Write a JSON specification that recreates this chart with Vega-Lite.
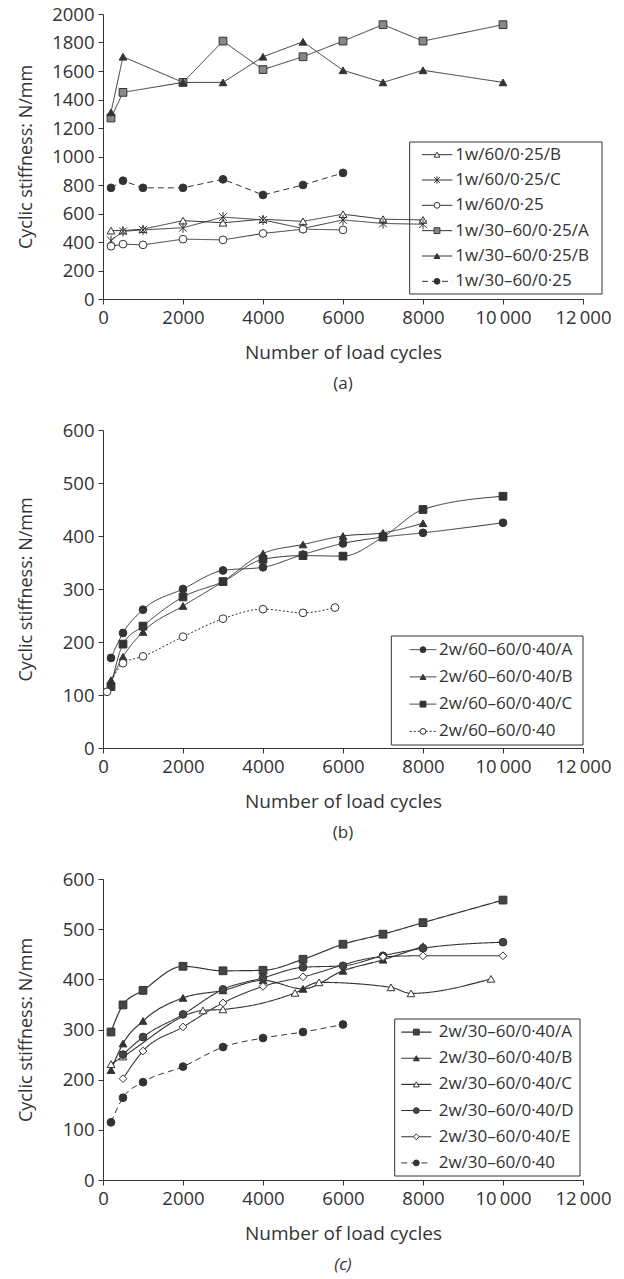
{
  "$schema": "https://vega.github.io/schema/vega-lite/v6.json",
  "padding": {"left": 17, "top": 5, "right": 5, "bottom": 2},
  "spacing": 29,
  "datasets": {
    "a": [
      {"s": "1w/60/0·25/B", "x": 200, "y": 480}, {"s": "1w/60/0·25/B", "x": 500, "y": 480}, {"s": "1w/60/0·25/B", "x": 1000, "y": 490}, {"s": "1w/60/0·25/B", "x": 2000, "y": 550}, {"s": "1w/60/0·25/B", "x": 3000, "y": 535}, {"s": "1w/60/0·25/B", "x": 4000, "y": 560}, {"s": "1w/60/0·25/B", "x": 5000, "y": 545}, {"s": "1w/60/0·25/B", "x": 6000, "y": 595}, {"s": "1w/60/0·25/B", "x": 7000, "y": 560}, {"s": "1w/60/0·25/B", "x": 8000, "y": 555},
      {"s": "1w/60/0·25/C", "x": 200, "y": 410}, {"s": "1w/60/0·25/C", "x": 500, "y": 475}, {"s": "1w/60/0·25/C", "x": 1000, "y": 485}, {"s": "1w/60/0·25/C", "x": 2000, "y": 500}, {"s": "1w/60/0·25/C", "x": 3000, "y": 575}, {"s": "1w/60/0·25/C", "x": 4000, "y": 555}, {"s": "1w/60/0·25/C", "x": 5000, "y": 495}, {"s": "1w/60/0·25/C", "x": 6000, "y": 555}, {"s": "1w/60/0·25/C", "x": 7000, "y": 530}, {"s": "1w/60/0·25/C", "x": 8000, "y": 525},
      {"s": "1w/60/0·25", "x": 200, "y": 370}, {"s": "1w/60/0·25", "x": 500, "y": 385}, {"s": "1w/60/0·25", "x": 1000, "y": 380}, {"s": "1w/60/0·25", "x": 2000, "y": 420}, {"s": "1w/60/0·25", "x": 3000, "y": 415}, {"s": "1w/60/0·25", "x": 4000, "y": 460}, {"s": "1w/60/0·25", "x": 5000, "y": 490}, {"s": "1w/60/0·25", "x": 6000, "y": 485},
      {"s": "1w/30–60/0·25/A", "x": 200, "y": 1270}, {"s": "1w/30–60/0·25/A", "x": 500, "y": 1450}, {"s": "1w/30–60/0·25/A", "x": 2000, "y": 1520}, {"s": "1w/30–60/0·25/A", "x": 3000, "y": 1810}, {"s": "1w/30–60/0·25/A", "x": 4000, "y": 1610}, {"s": "1w/30–60/0·25/A", "x": 5000, "y": 1700}, {"s": "1w/30–60/0·25/A", "x": 6000, "y": 1810}, {"s": "1w/30–60/0·25/A", "x": 7000, "y": 1925}, {"s": "1w/30–60/0·25/A", "x": 8000, "y": 1810}, {"s": "1w/30–60/0·25/A", "x": 10000, "y": 1925},
      {"s": "1w/30–60/0·25/B", "x": 200, "y": 1310}, {"s": "1w/30–60/0·25/B", "x": 500, "y": 1700}, {"s": "1w/30–60/0·25/B", "x": 2000, "y": 1520}, {"s": "1w/30–60/0·25/B", "x": 3000, "y": 1520}, {"s": "1w/30–60/0·25/B", "x": 4000, "y": 1700}, {"s": "1w/30–60/0·25/B", "x": 5000, "y": 1805}, {"s": "1w/30–60/0·25/B", "x": 6000, "y": 1605}, {"s": "1w/30–60/0·25/B", "x": 7000, "y": 1520}, {"s": "1w/30–60/0·25/B", "x": 8000, "y": 1605}, {"s": "1w/30–60/0·25/B", "x": 10000, "y": 1520},
      {"s": "1w/30–60/0·25", "x": 200, "y": 780}, {"s": "1w/30–60/0·25", "x": 500, "y": 830}, {"s": "1w/30–60/0·25", "x": 1000, "y": 780}, {"s": "1w/30–60/0·25", "x": 2000, "y": 780}, {"s": "1w/30–60/0·25", "x": 3000, "y": 840}, {"s": "1w/30–60/0·25", "x": 4000, "y": 730}, {"s": "1w/30–60/0·25", "x": 5000, "y": 800}, {"s": "1w/30–60/0·25", "x": 6000, "y": 885}
    ],
    "la": [{"s": "1w/60/0·25/B"}, {"s": "1w/60/0·25/C"}, {"s": "1w/60/0·25"}, {"s": "1w/30–60/0·25/A"}, {"s": "1w/30–60/0·25/B"}, {"s": "1w/30–60/0·25"}],
    "b": [
      {"s": "2w/60–60/0·40/A", "x": 200, "y": 170}, {"s": "2w/60–60/0·40/A", "x": 500, "y": 217}, {"s": "2w/60–60/0·40/A", "x": 1000, "y": 261}, {"s": "2w/60–60/0·40/A", "x": 2000, "y": 300}, {"s": "2w/60–60/0·40/A", "x": 3000, "y": 335}, {"s": "2w/60–60/0·40/A", "x": 4000, "y": 341}, {"s": "2w/60–60/0·40/A", "x": 5000, "y": 365}, {"s": "2w/60–60/0·40/A", "x": 6000, "y": 386}, {"s": "2w/60–60/0·40/A", "x": 7000, "y": 398}, {"s": "2w/60–60/0·40/A", "x": 8000, "y": 406}, {"s": "2w/60–60/0·40/A", "x": 10000, "y": 425},
      {"s": "2w/60–60/0·40/B", "x": 200, "y": 128}, {"s": "2w/60–60/0·40/B", "x": 500, "y": 172}, {"s": "2w/60–60/0·40/B", "x": 1000, "y": 219}, {"s": "2w/60–60/0·40/B", "x": 2000, "y": 268}, {"s": "2w/60–60/0·40/B", "x": 3000, "y": 314}, {"s": "2w/60–60/0·40/B", "x": 4000, "y": 367}, {"s": "2w/60–60/0·40/B", "x": 5000, "y": 384}, {"s": "2w/60–60/0·40/B", "x": 6000, "y": 400}, {"s": "2w/60–60/0·40/B", "x": 7000, "y": 406}, {"s": "2w/60–60/0·40/B", "x": 8000, "y": 424},
      {"s": "2w/60–60/0·40/C", "x": 200, "y": 116}, {"s": "2w/60–60/0·40/C", "x": 500, "y": 196}, {"s": "2w/60–60/0·40/C", "x": 1000, "y": 230}, {"s": "2w/60–60/0·40/C", "x": 2000, "y": 285}, {"s": "2w/60–60/0·40/C", "x": 3000, "y": 314}, {"s": "2w/60–60/0·40/C", "x": 4000, "y": 356}, {"s": "2w/60–60/0·40/C", "x": 5000, "y": 363}, {"s": "2w/60–60/0·40/C", "x": 6000, "y": 362}, {"s": "2w/60–60/0·40/C", "x": 7000, "y": 398}, {"s": "2w/60–60/0·40/C", "x": 8000, "y": 450}, {"s": "2w/60–60/0·40/C", "x": 10000, "y": 475},
      {"s": "2w/60–60/0·40", "x": 100, "y": 106}, {"s": "2w/60–60/0·40", "x": 500, "y": 160}, {"s": "2w/60–60/0·40", "x": 1000, "y": 173}, {"s": "2w/60–60/0·40", "x": 2000, "y": 210}, {"s": "2w/60–60/0·40", "x": 3000, "y": 244}, {"s": "2w/60–60/0·40", "x": 4000, "y": 262}, {"s": "2w/60–60/0·40", "x": 5000, "y": 255}, {"s": "2w/60–60/0·40", "x": 5800, "y": 265}
    ],
    "lb": [{"s": "2w/60–60/0·40/A"}, {"s": "2w/60–60/0·40/B"}, {"s": "2w/60–60/0·40/C"}, {"s": "2w/60–60/0·40"}],
    "c": [
      {"s": "2w/30–60/0·40/A", "x": 200, "y": 295}, {"s": "2w/30–60/0·40/A", "x": 500, "y": 349}, {"s": "2w/30–60/0·40/A", "x": 1000, "y": 378}, {"s": "2w/30–60/0·40/A", "x": 2000, "y": 426}, {"s": "2w/30–60/0·40/A", "x": 3000, "y": 417}, {"s": "2w/30–60/0·40/A", "x": 4000, "y": 418}, {"s": "2w/30–60/0·40/A", "x": 5000, "y": 440}, {"s": "2w/30–60/0·40/A", "x": 6000, "y": 470}, {"s": "2w/30–60/0·40/A", "x": 7000, "y": 490}, {"s": "2w/30–60/0·40/A", "x": 8000, "y": 513}, {"s": "2w/30–60/0·40/A", "x": 10000, "y": 558},
      {"s": "2w/30–60/0·40/B", "x": 200, "y": 219}, {"s": "2w/30–60/0·40/B", "x": 500, "y": 272}, {"s": "2w/30–60/0·40/B", "x": 1000, "y": 317}, {"s": "2w/30–60/0·40/B", "x": 2000, "y": 363}, {"s": "2w/30–60/0·40/B", "x": 3000, "y": 378}, {"s": "2w/30–60/0·40/B", "x": 4000, "y": 398}, {"s": "2w/30–60/0·40/B", "x": 5000, "y": 381}, {"s": "2w/30–60/0·40/B", "x": 6000, "y": 417}, {"s": "2w/30–60/0·40/B", "x": 7000, "y": 439}, {"s": "2w/30–60/0·40/B", "x": 8000, "y": 466},
      {"s": "2w/30–60/0·40/C", "x": 200, "y": 231}, {"s": "2w/30–60/0·40/C", "x": 500, "y": 246}, {"s": "2w/30–60/0·40/C", "x": 2500, "y": 338}, {"s": "2w/30–60/0·40/C", "x": 3000, "y": 340}, {"s": "2w/30–60/0·40/C", "x": 4800, "y": 373}, {"s": "2w/30–60/0·40/C", "x": 5400, "y": 394}, {"s": "2w/30–60/0·40/C", "x": 7200, "y": 384}, {"s": "2w/30–60/0·40/C", "x": 7700, "y": 372}, {"s": "2w/30–60/0·40/C", "x": 9700, "y": 401},
      {"s": "2w/30–60/0·40/D", "x": 500, "y": 250}, {"s": "2w/30–60/0·40/D", "x": 1000, "y": 285}, {"s": "2w/30–60/0·40/D", "x": 2000, "y": 330}, {"s": "2w/30–60/0·40/D", "x": 3000, "y": 380}, {"s": "2w/30–60/0·40/D", "x": 4000, "y": 403}, {"s": "2w/30–60/0·40/D", "x": 5000, "y": 424}, {"s": "2w/30–60/0·40/D", "x": 6000, "y": 427}, {"s": "2w/30–60/0·40/D", "x": 7000, "y": 447}, {"s": "2w/30–60/0·40/D", "x": 8000, "y": 462}, {"s": "2w/30–60/0·40/D", "x": 10000, "y": 474},
      {"s": "2w/30–60/0·40/E", "x": 500, "y": 202}, {"s": "2w/30–60/0·40/E", "x": 1000, "y": 257}, {"s": "2w/30–60/0·40/E", "x": 2000, "y": 305}, {"s": "2w/30–60/0·40/E", "x": 3000, "y": 353}, {"s": "2w/30–60/0·40/E", "x": 4000, "y": 386}, {"s": "2w/30–60/0·40/E", "x": 5000, "y": 405}, {"s": "2w/30–60/0·40/E", "x": 7000, "y": 445}, {"s": "2w/30–60/0·40/E", "x": 8000, "y": 447}, {"s": "2w/30–60/0·40/E", "x": 10000, "y": 447},
      {"s": "2w/30–60/0·40", "x": 200, "y": 115}, {"s": "2w/30–60/0·40", "x": 500, "y": 164}, {"s": "2w/30–60/0·40", "x": 1000, "y": 195}, {"s": "2w/30–60/0·40", "x": 2000, "y": 226}, {"s": "2w/30–60/0·40", "x": 3000, "y": 265}, {"s": "2w/30–60/0·40", "x": 4000, "y": 283}, {"s": "2w/30–60/0·40", "x": 5000, "y": 295}, {"s": "2w/30–60/0·40", "x": 6000, "y": 310}
    ],
    "lc": [{"s": "2w/30–60/0·40/A"}, {"s": "2w/30–60/0·40/B"}, {"s": "2w/30–60/0·40/C"}, {"s": "2w/30–60/0·40/D"}, {"s": "2w/30–60/0·40/E"}, {"s": "2w/30–60/0·40"}]
  },
  "vconcat": [
    {
      "width": 480, "height": 285,
      "title": {"text": "(a)", "orient": "bottom", "offset": 13},
      "resolve": {"scale": {"y": "independent"}},
      "layer": [
        {
          "data": {"name": "a"},
          "encoding": {
            "x": {"field": "x", "type": "quantitative", "scale": {"domain": [0, 12000], "nice": false}, "axis": {"values": [0, 2000, 4000, 6000, 8000, 10000, 12000], "title": "Number of load cycles"}},
            "y": {"field": "y", "type": "quantitative", "scale": {"domain": [0, 2000], "nice": false}, "axis": {"values": [0, 200, 400, 600, 800, 1000, 1200, 1400, 1600, 1800, 2000], "format": "d", "title": "Cyclic stiffness: N/mm"}}
          },
          "layer": [
            {
              "mark": {"type": "line", "color": "#333", "strokeWidth": 1},
              "encoding": {
                "detail": {"field": "s", "type": "nominal"},
                "strokeDash": {"field": "s", "type": "nominal", "scale": {"domain": ["1w/60/0·25/B", "1w/60/0·25/C", "1w/60/0·25", "1w/30–60/0·25/A", "1w/30–60/0·25/B", "1w/30–60/0·25"], "range": [[1, 0], [1, 0], [1, 0], [1, 0], [1, 0], [6, 4]]}, "legend": null}
              }
            },
            {
              "mark": {"type": "point", "filled": true, "stroke": "#333", "strokeWidth": 1, "size": 60, "opacity": 1},
              "encoding": {
                "shape": {"field": "s", "type": "nominal", "scale": {"domain": ["1w/60/0·25/B", "1w/60/0·25/C", "1w/60/0·25", "1w/30–60/0·25/A", "1w/30–60/0·25/B", "1w/30–60/0·25"], "range": ["triangle-up", "M-1,-1L1,1M-1,1L1,-1M0,-1.3L0,1.3", "circle", "square", "triangle-up", "circle"]}, "legend": null},
                "fill": {"field": "s", "type": "nominal", "scale": {"domain": ["1w/60/0·25/B", "1w/60/0·25/C", "1w/60/0·25", "1w/30–60/0·25/A", "1w/30–60/0·25/B", "1w/30–60/0·25"], "range": ["white", "white", "white", "#888", "#333", "#333"]}, "legend": null}
              }
            }
          ]
        },
        {
          "data": {"name": "la"},
          "encoding": {
            "y": {"field": "s", "type": "nominal", "axis": null, "scale": {"type": "point", "padding": 0, "range": [128, 280], "domain": ["_t", "1w/60/0·25/B", "_1", "1w/60/0·25/C", "_2", "1w/60/0·25", "_3", "1w/30–60/0·25/A", "_4", "1w/30–60/0·25/B", "_5", "1w/30–60/0·25", "_b"]}}
          },
          "layer": [
            {
              "transform": [{"filter": "datum.s == '1w/60/0·25/B'"}],
              "mark": {"type": "rect", "filled": false, "color": "#333", "strokeWidth": 1},
              "encoding": {
                "x": {"datum": 7667, "type": "quantitative"},
                "x2": {"datum": 12475},
                "y": {"datum": "_t", "type": "nominal"},
                "y2": {"datum": "_b"}
              }
            },
            {
              "mark": {"type": "rule", "color": "#333", "strokeWidth": 1},
              "encoding": {
                "x": {"datum": 7975, "type": "quantitative"},
                "x2": {"datum": 8733},
                "strokeDash": {"field": "s", "type": "nominal", "legend": null}
              }
            },
            {
              "mark": {"type": "point", "filled": true, "stroke": "#333", "strokeWidth": 1, "size": 34, "opacity": 1},
              "encoding": {
                "x": {"datum": 8350, "type": "quantitative"},
                "shape": {"field": "s", "type": "nominal", "legend": null},
                "fill": {"field": "s", "type": "nominal", "legend": null}
              }
            },
            {
              "mark": {"type": "text", "align": "left", "baseline": "middle", "font": "Open Sans", "fontSize": 17, "color": "#333"},
              "encoding": {
                "x": {"datum": 8808, "type": "quantitative"},
                "text": {"field": "s"}
              }
            }
          ]
        }
      ]
    },
    {
      "width": 480, "height": 318,
      "title": {"text": "(b)", "orient": "bottom", "offset": 13},
      "resolve": {"scale": {"y": "independent"}},
      "layer": [
        {
          "data": {"name": "b"},
          "encoding": {
            "x": {"field": "x", "type": "quantitative", "scale": {"domain": [0, 12000], "nice": false}, "axis": {"values": [0, 2000, 4000, 6000, 8000, 10000, 12000], "title": "Number of load cycles"}},
            "y": {"field": "y", "type": "quantitative", "scale": {"domain": [0, 600], "nice": false}, "axis": {"values": [0, 100, 200, 300, 400, 500, 600], "format": "d", "title": "Cyclic stiffness: N/mm"}}
          },
          "layer": [
            {
              "mark": {"type": "line", "color": "#333", "strokeWidth": 1, "interpolate": "monotone"},
              "encoding": {
                "detail": {"field": "s", "type": "nominal"},
                "strokeDash": {"field": "s", "type": "nominal", "scale": {"domain": ["2w/60–60/0·40/A", "2w/60–60/0·40/B", "2w/60–60/0·40/C", "2w/60–60/0·40"], "range": [[1, 0], [1, 0], [1, 0], [2, 2]]}, "legend": null}
              }
            },
            {
              "mark": {"type": "point", "filled": true, "stroke": "#333", "strokeWidth": 1, "size": 60, "opacity": 1},
              "encoding": {
                "shape": {"field": "s", "type": "nominal", "scale": {"domain": ["2w/60–60/0·40/A", "2w/60–60/0·40/B", "2w/60–60/0·40/C", "2w/60–60/0·40"], "range": ["circle", "triangle-up", "square", "circle"]}, "legend": null},
                "fill": {"field": "s", "type": "nominal", "scale": {"domain": ["2w/60–60/0·40/A", "2w/60–60/0·40/B", "2w/60–60/0·40/C", "2w/60–60/0·40"], "range": ["#333", "#333", "#333", "white"]}, "legend": null}
              }
            }
          ]
        },
        {
          "data": {"name": "lb"},
          "encoding": {
            "y": {"field": "s", "type": "nominal", "axis": null, "scale": {"type": "point", "padding": 0, "range": [206, 315], "domain": ["_t", "2w/60–60/0·40/A", "_1", "2w/60–60/0·40/B", "_2", "2w/60–60/0·40/C", "_3", "2w/60–60/0·40", "_b"]}}
          },
          "layer": [
            {
              "transform": [{"filter": "datum.s == '2w/60–60/0·40/A'"}],
              "mark": {"type": "rect", "filled": false, "color": "#333", "strokeWidth": 1},
              "encoding": {
                "x": {"datum": 7208, "type": "quantitative"},
                "x2": {"datum": 12000},
                "y": {"datum": "_t", "type": "nominal"},
                "y2": {"datum": "_b"}
              }
            },
            {
              "mark": {"type": "rule", "color": "#333", "strokeWidth": 1},
              "encoding": {
                "x": {"datum": 7667, "type": "quantitative"},
                "x2": {"datum": 8333},
                "strokeDash": {"field": "s", "type": "nominal", "legend": null}
              }
            },
            {
              "mark": {"type": "point", "filled": true, "stroke": "#333", "strokeWidth": 1, "size": 34, "opacity": 1},
              "encoding": {
                "x": {"datum": 8000, "type": "quantitative"},
                "shape": {"field": "s", "type": "nominal", "legend": null},
                "fill": {"field": "s", "type": "nominal", "legend": null}
              }
            },
            {
              "mark": {"type": "text", "align": "left", "baseline": "middle", "font": "Open Sans", "fontSize": 17, "color": "#333"},
              "encoding": {
                "x": {"datum": 8400, "type": "quantitative"},
                "text": {"field": "s"}
              }
            }
          ]
        }
      ]
    },
    {
      "width": 480, "height": 301,
      "title": {"text": "(c)", "orient": "bottom", "offset": 13, "fontStyle": "italic"},
      "resolve": {"scale": {"y": "independent"}},
      "layer": [
        {
          "data": {"name": "c"},
          "encoding": {
            "x": {"field": "x", "type": "quantitative", "scale": {"domain": [0, 12000], "nice": false}, "axis": {"values": [0, 2000, 4000, 6000, 8000, 10000, 12000], "title": "Number of load cycles"}},
            "y": {"field": "y", "type": "quantitative", "scale": {"domain": [0, 600], "nice": false}, "axis": {"values": [0, 100, 200, 300, 400, 500, 600], "format": "d", "title": "Cyclic stiffness: N/mm"}}
          },
          "layer": [
            {
              "mark": {"type": "line", "color": "#333", "interpolate": "monotone"},
              "encoding": {
                "detail": {"field": "s", "type": "nominal"},
                "strokeDash": {"field": "s", "type": "nominal", "scale": {"domain": ["2w/30–60/0·40/A", "2w/30–60/0·40/B", "2w/30–60/0·40/C", "2w/30–60/0·40/D", "2w/30–60/0·40/E", "2w/30–60/0·40"], "range": [[1, 0], [1, 0], [1, 0], [1, 0], [1, 0], [6, 4]]}, "legend": null},
                "strokeWidth": {"field": "s", "type": "nominal", "scale": {"domain": ["2w/30–60/0·40/A", "2w/30–60/0·40/B", "2w/30–60/0·40/C", "2w/30–60/0·40/D", "2w/30–60/0·40/E", "2w/30–60/0·40"], "range": [1.2, 1, 1.2, 2, 1, 1]}, "legend": null}
              }
            },
            {
              "mark": {"type": "point", "filled": true, "stroke": "#333", "strokeWidth": 1, "size": 60, "opacity": 1},
              "encoding": {
                "shape": {"field": "s", "type": "nominal", "scale": {"domain": ["2w/30–60/0·40/A", "2w/30–60/0·40/B", "2w/30–60/0·40/C", "2w/30–60/0·40/D", "2w/30–60/0·40/E", "2w/30–60/0·40"], "range": ["square", "triangle-up", "triangle-up", "circle", "diamond", "circle"]}, "legend": null},
                "fill": {"field": "s", "type": "nominal", "scale": {"domain": ["2w/30–60/0·40/A", "2w/30–60/0·40/B", "2w/30–60/0·40/C", "2w/30–60/0·40/D", "2w/30–60/0·40/E", "2w/30–60/0·40"], "range": ["#444", "#333", "white", "#444", "white", "#333"]}, "legend": null}
              }
            }
          ]
        },
        {
          "data": {"name": "lc"},
          "encoding": {
            "y": {"field": "s", "type": "nominal", "axis": null, "scale": {"type": "point", "padding": 0, "range": [140, 297], "domain": ["_t", "2w/30–60/0·40/A", "_1", "2w/30–60/0·40/B", "_2", "2w/30–60/0·40/C", "_3", "2w/30–60/0·40/D", "_4", "2w/30–60/0·40/E", "_5", "2w/30–60/0·40", "_b"]}}
          },
          "layer": [
            {
              "transform": [{"filter": "datum.s == '2w/30–60/0·40/A'"}],
              "mark": {"type": "rect", "filled": false, "color": "#333", "strokeWidth": 1},
              "encoding": {
                "x": {"datum": 7292, "type": "quantitative"},
                "x2": {"datum": 11925},
                "y": {"datum": "_t", "type": "nominal"},
                "y2": {"datum": "_b"}
              }
            },
            {
              "mark": {"type": "rule", "color": "#333"},
              "encoding": {
                "x": {"datum": 7458, "type": "quantitative"},
                "x2": {"datum": 8208},
                "strokeDash": {"field": "s", "type": "nominal", "legend": null},
                "strokeWidth": {"field": "s", "type": "nominal", "legend": null}
              }
            },
            {
              "mark": {"type": "point", "filled": true, "stroke": "#333", "strokeWidth": 1, "size": 34, "opacity": 1},
              "encoding": {
                "x": {"datum": 7833, "type": "quantitative"},
                "shape": {"field": "s", "type": "nominal", "legend": null},
                "fill": {"field": "s", "type": "nominal", "legend": null}
              }
            },
            {
              "mark": {"type": "text", "align": "left", "baseline": "middle", "font": "Open Sans", "fontSize": 17, "color": "#333"},
              "encoding": {
                "x": {"datum": 8392, "type": "quantitative"},
                "text": {"field": "s"}
              }
            }
          ]
        }
      ]
    }
  ],
  "resolve": {"scale": {"shape": "independent", "fill": "independent", "strokeDash": "independent", "strokeWidth": "independent"}},
  "config": {
    "view": {"stroke": null},
    "font": "Open Sans",
    "axis": {
      "grid": false, "labelFont": "Open Sans", "labelFontSize": 18.5, "labelColor": "#333",
      "titleFont": "Open Sans", "titleFontWeight": "normal", "titleColor": "#333",
      "domainColor": "#333", "tickColor": "#333", "tickSize": 5, "labelPadding": 4, "labelOverlap": false
    },
    "axisX": {"labelExpr": "datum.value >= 10000 ? replace(format(datum.value, ','), ',', '\u2009') : '' + datum.value", "titlePadding": 17, "titleFontSize": 19, "labelFlush": false},
    "axisY": {"minExtent": 55, "titlePadding": 13, "titleFontSize": 18},
    "title": {"font": "Open Sans", "fontSize": 17, "fontWeight": "normal", "color": "#333"}
  }
}
